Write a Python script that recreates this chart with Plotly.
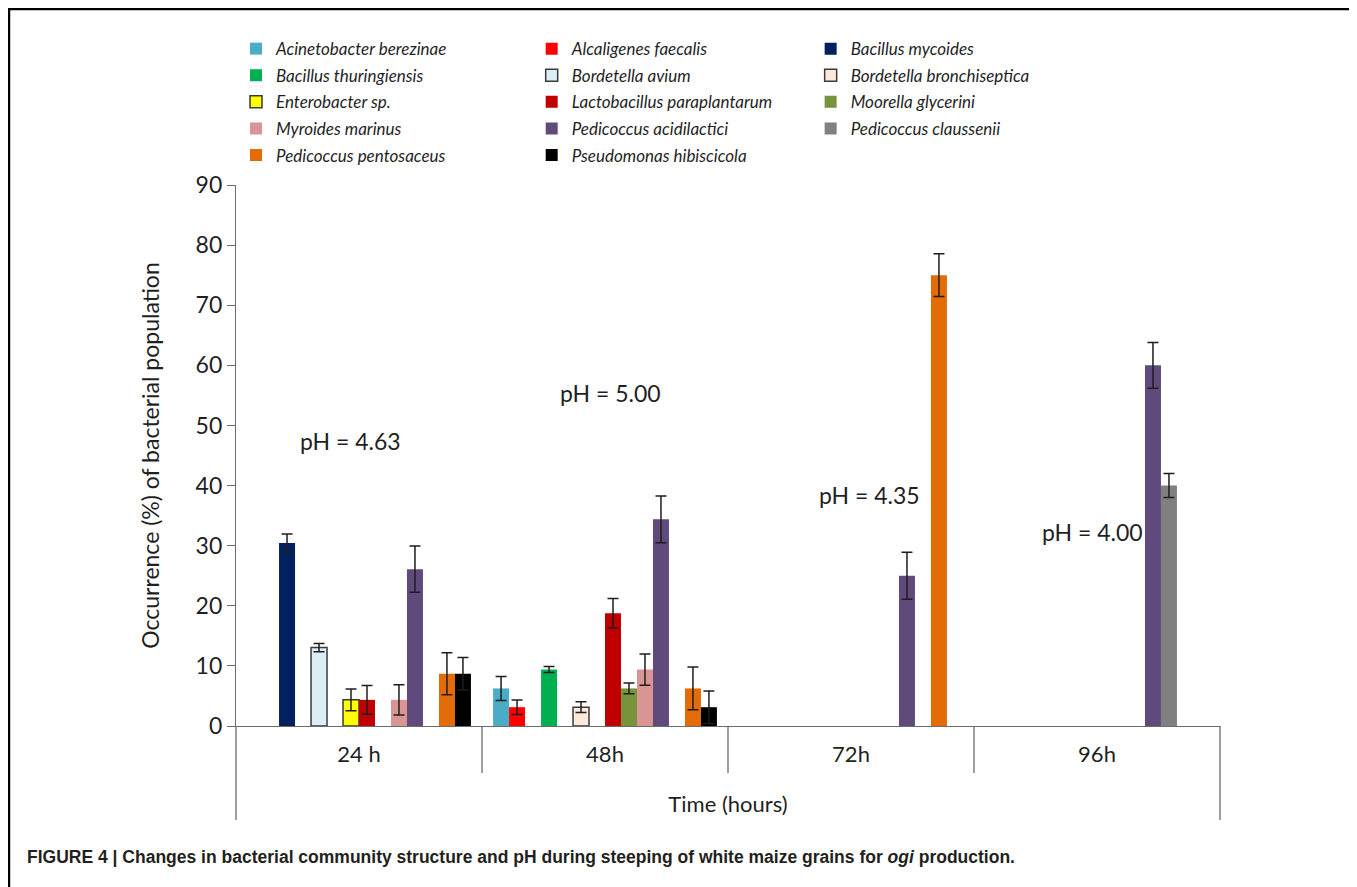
import plotly.graph_objects as go

# ---------------- data ----------------
categories = ["24 h", "48h", "72h", "96h"]

species = [
    "Acinetobacter berezinae", "Alcaligenes faecalis", "Bacillus mycoides",
    "Bacillus thuringiensis", "Bordetella avium", "Bordetella bronchiseptica",
    "Enterobacter sp.", "Lactobacillus paraplantarum", "Moorella glycerini",
    "Myroides marinus", "Pedicoccus acidilactici", "Pedicoccus claussenii",
    "Pedicoccus pentosaceus", "Pseudomonas hibiscicola",
]

acinetobacter_berezinae = [None, 6.25, None, None]
alcaligenes_faecalis = [None, 3.13, None, None]
bacillus_mycoides = [30.43, None, None, None]
bacillus_thuringiensis = [None, 9.38, None, None]
bordetella_avium = [13.04, None, None, None]
bordetella_bronchiseptica = [None, 3.13, None, None]
enterobacter_sp = [4.35, None, None, None]
lactobacillus_paraplantarum = [4.35, 18.75, None, None]
moorella_glycerini = [None, 6.25, None, None]
myroides_marinus = [4.35, 9.38, None, None]
pedicoccus_acidilactici = [26.09, 34.38, 25.0, 60.0]
pedicoccus_claussenii = [None, None, None, 40.0]
pedicoccus_pentosaceus = [8.70, 6.25, 75.0, None]
pseudomonas_hibiscicola = [8.70, 3.13, None, None]

err_acinetobacter_berezinae = [None, 2.0, None, None]
err_alcaligenes_faecalis = [None, 1.2, None, None]
err_bacillus_mycoides = [1.5, None, None, None]
err_bacillus_thuringiensis = [None, 0.5, None, None]
err_bordetella_avium = [0.7, None, None, None]
err_bordetella_bronchiseptica = [None, 0.9, None, None]
err_enterobacter_sp = [1.8, None, None, None]
err_lactobacillus_paraplantarum = [2.4, 2.45, None, None]
err_moorella_glycerini = [None, 0.9, None, None]
err_myroides_marinus = [2.5, 2.6, None, None]
err_pedicoccus_acidilactici = [3.85, 3.9, 3.9, 3.8]
err_pedicoccus_claussenii = [None, None, None, 2.0]
err_pedicoccus_pentosaceus = [3.5, 3.55, 3.55, None]
err_pseudomonas_hibiscicola = [2.7, 2.7, None, None]

values = [
    acinetobacter_berezinae, alcaligenes_faecalis, bacillus_mycoides,
    bacillus_thuringiensis, bordetella_avium, bordetella_bronchiseptica,
    enterobacter_sp, lactobacillus_paraplantarum, moorella_glycerini,
    myroides_marinus, pedicoccus_acidilactici, pedicoccus_claussenii,
    pedicoccus_pentosaceus, pseudomonas_hibiscicola,
]
errors = [
    err_acinetobacter_berezinae, err_alcaligenes_faecalis, err_bacillus_mycoides,
    err_bacillus_thuringiensis, err_bordetella_avium, err_bordetella_bronchiseptica,
    err_enterobacter_sp, err_lactobacillus_paraplantarum, err_moorella_glycerini,
    err_myroides_marinus, err_pedicoccus_acidilactici, err_pedicoccus_claussenii,
    err_pedicoccus_pentosaceus, err_pseudomonas_hibiscicola,
]

ph_labels = ["pH = 4.63", "pH = 5.00", "pH = 4.35", "pH = 4.00"]
ph_x = [-0.036, 1.023, 2.074, 2.983]
ph_y = [47.4, 55.4, 38.4, 32.3]

# ---------------- styles ----------------
colors = [
    "#4BACC6", "#FF0000", "#002060", "#00B050", "#DAEEF3", "#FDE9D9",
    "#FFFF00", "#C00000", "#77933C", "#D99594", "#604A7B", "#808080",
    "#E36C09", "#000000",
]
outlined = {"Bordetella avium", "Bordetella bronchiseptica", "Enterobacter sp."}

TEXT = "#1f1f1f"
AXIS = "#6b6b6b"
FONT = "Lato, Open Sans, sans-serif"

fig = go.Figure()
for i, (name, vals, errs) in enumerate(zip(species, values, errors)):
    xs = [c for c, v in zip(categories, vals) if v is not None]
    ys = [v for v in vals if v is not None]
    es = [e for v, e in zip(vals, errs) if v is not None]
    col = i % 3
    legend_id = "legend" if col == 0 else f"legend{col + 1}"
    line = dict(color="#3a3a3a", width=1.5) if name in outlined else dict(width=0)
    fig.add_trace(go.Bar(
        x=xs, y=ys, name=name,
        marker=dict(color=colors[i], line=line),
        error_y=dict(type="data", array=es, visible=True,
                     color="#1e1e1e", thickness=1.5, width=5.5),
        legend=legend_id, legendgroup=name,
    ))

legend_common = dict(
    orientation="v", xanchor="left", yanchor="top",
    font=dict(family=FONT, size=17, color=TEXT, style="italic"),
    bgcolor="rgba(0,0,0,0)", tracegroupgap=1.5,
    itemclick=False, itemdoubleclick=False,
)
legend_y = 1.2845
fig.update_layout(
    legend=dict(x=0.0, y=legend_y, **legend_common),
    legend2=dict(x=0.3005, y=legend_y, **legend_common),
    legend3=dict(x=0.5840, y=legend_y, **legend_common),
)

for txt, x, y in zip(ph_labels, ph_x, ph_y):
    fig.add_annotation(x=x, y=y, xref="x", yref="y", text=txt, showarrow=False,
                       font=dict(family=FONT, size=23, color=TEXT))

# category separators and extended axis lines (multi-level category axis look)
for b in [0.5, 1.5, 2.5]:
    fig.add_shape(type="line", xref="x", yref="paper", x0=b, x1=b, y0=0, y1=-0.0869,
                  line=dict(color=AXIS, width=1.3))
for xp in [0, 1]:
    fig.add_shape(type="line", xref="paper", yref="paper", x0=xp, x1=xp, y0=0, y1=-0.1738,
                  line=dict(color=AXIS, width=1.3))

# outer frame
fig.add_shape(type="rect", xref="paper", yref="paper",
              x0=-0.2307, x1=1.1382, y0=-0.33, y1=1.3253,
              line=dict(color="black", width=2.5))

# caption
fig.add_annotation(
    xref="paper", yref="paper", x=-0.2144, y=-0.2421, xanchor="left", yanchor="middle",
    text="<b>FIGURE 4 | Changes in bacterial community structure and pH during steeping of white maize grains for <i>ogi</i> production.</b>",
    showarrow=False, font=dict(family="Liberation Sans, Arial, sans-serif", size=17.5, color="#231f20"),
)

fig.update_layout(
    width=1349, height=879,
    margin=dict(l=228, r=137, t=177, b=161),
    paper_bgcolor="white", plot_bgcolor="white",
    barmode="group", bargap=0.09, bargroupgap=0,
    font=dict(family=FONT, color=TEXT),
    xaxis=dict(
        categoryorder="array", categoryarray=categories,
        range=[-0.5, 3.5],
        showline=True, linecolor=AXIS, linewidth=1.3,
        ticks="", ticklabelstandoff=8,
        tickfont=dict(family=FONT, size=22, color=TEXT),
        title=dict(text="Time (hours)", font=dict(family=FONT, size=22, color=TEXT), standoff=31),
    ),
    yaxis=dict(
        range=[0, 90], dtick=10, tick0=0,
        showline=True, linecolor=AXIS, linewidth=1.3,
        ticks="outside", ticklen=8, tickcolor=AXIS, tickwidth=1.3,
        showgrid=False, zeroline=False,
        tickfont=dict(family=FONT, size=23, color=TEXT),
        title=dict(text="Occurrence (%) of bacterial population",
                   font=dict(family=FONT, size=23, color=TEXT), standoff=29),
    ),
)

fig.write_html("out.html")
